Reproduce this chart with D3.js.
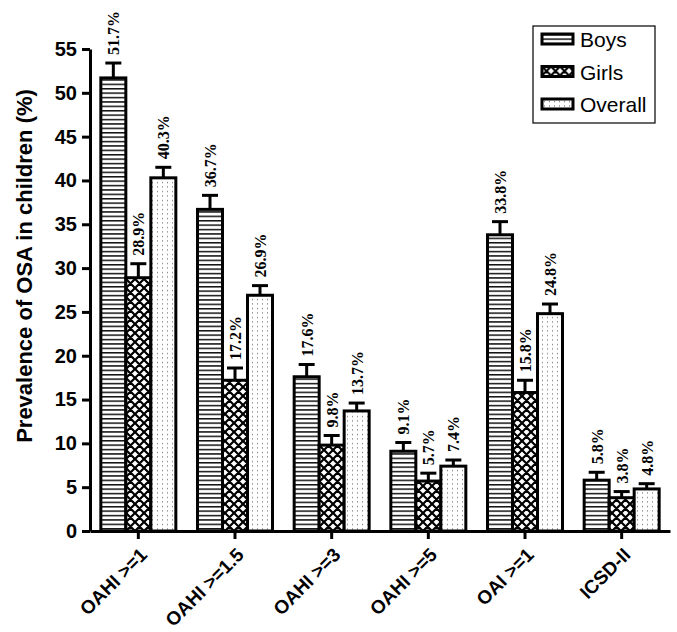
<!DOCTYPE html>
<html>
<head>
<meta charset="utf-8">
<script src="https://cdn.jsdelivr.net/npm/d3@7"></script>
<style>
  body { margin: 0; background: #fff; }
  svg { display: block; }
</style>
</head>
<body>
<div id="container"></div>
<script>
/* DATA */
const categories = ["OAHI >=1", "OAHI >=1.5", "OAHI >=3", "OAHI >=5", "OAI >=1", "ICSD-II"];
const seriesNames = ["Boys", "Girls", "Overall"];
const boys = [51.7, 36.7, 17.6, 9.1, 33.8, 5.8];
const girls = [28.9, 17.2, 9.8, 5.7, 15.8, 3.8];
const overall = [40.3, 26.9, 13.7, 7.4, 24.8, 4.8];
const boysErr = [1.7, 1.6, 1.4, 1.0, 1.5, 0.9];
const girlsErr = [1.6, 1.4, 1.1, 0.9, 1.4, 0.7];
const overallErr = [1.2, 1.1, 0.9, 0.7, 1.1, 0.6];
const yTicks = [0, 5, 10, 15, 20, 25, 30, 35, 40, 45, 50, 55];

/* CONSTANTS */
const width = 677, height = 632;
const margin = { top: 49, left: 90, right: 7, bottom: 101 };
const sans = "'Liberation Sans', Arial, sans-serif";

const svg = d3.select("#container")
  .append("svg")
  .attr("width", width)
  .attr("height", height);

// PATTERNS
const defs = svg.append("defs");

const pBoys = defs.append("pattern")
  .attr("id", "pat-Boys")
  .attr("patternUnits", "userSpaceOnUse")
  .attr("width", 8).attr("height", 4.4);
pBoys.append("rect").attr("width", 8).attr("height", 4.4).attr("fill", "#fff");
pBoys.append("rect").attr("y", 0).attr("width", 8).attr("height", 1.5).attr("fill", "#111");

const pGirls = defs.append("pattern")
  .attr("id", "pat-Girls")
  .attr("patternUnits", "userSpaceOnUse")
  .attr("width", 9).attr("height", 9);
pGirls.append("rect").attr("width", 9).attr("height", 9).attr("fill", "#fff");
pGirls.append("path")
  .attr("d", "M0,0 L9,9 M9,0 L0,9 M-1,8 L1,10 M8,-1 L10,1 M-1,1 L1,-1 M8,10 L10,8")
  .attr("stroke", "#000")
  .attr("stroke-width", 2.2);

const pOverall = defs.append("pattern")
  .attr("id", "pat-Overall")
  .attr("patternUnits", "userSpaceOnUse")
  .attr("width", 5).attr("height", 4.5);
pOverall.append("rect").attr("width", 5).attr("height", 4.5).attr("fill", "#fff");
pOverall.append("rect").attr("x", 2).attr("y", 2).attr("width", 1).attr("height", 1).attr("fill", "#555");

// SCALES
const x = d3.scaleBand()
  .domain(categories)
  .range([margin.left, width - margin.right])
  .padding(0);

const y = d3.scaleLinear()
  .domain([0, 55])
  .range([height - margin.bottom, margin.top]);

const groupWidth = 75;
const xInner = d3.scaleBand()
  .domain(seriesNames)
  .range([0, groupWidth])
  .padding(0);

const seriesData = [
  { name: "Boys", values: boys, errs: boysErr },
  { name: "Girls", values: girls, errs: girlsErr },
  { name: "Overall", values: overall, errs: overallErr }
];

const rows = [];
seriesData.forEach(s => {
  s.values.forEach((v, i) => {
    rows.push({ series: s.name, cat: categories[i], value: v, err: s.errs[i] });
  });
});

const barX = d => x(d.cat) + x.bandwidth() / 2 - groupWidth / 2 + xInner(d.series);
const barMid = d => barX(d) + xInner.bandwidth() / 2;

// ERROR BARS
const errG = svg.append("g").attr("class", "errors");
errG.selectAll("line.err")
  .data(rows)
  .join("line")
  .attr("class", "err")
  .attr("x1", barMid)
  .attr("x2", barMid)
  .attr("y1", d => y(d.value))
  .attr("y2", d => y(d.value + d.err))
  .attr("stroke", "#000")
  .attr("stroke-width", 3);
errG.selectAll("line.cap")
  .data(rows)
  .join("line")
  .attr("class", "cap")
  .attr("x1", d => barMid(d) - 8)
  .attr("x2", d => barMid(d) + 8)
  .attr("y1", d => y(d.value + d.err))
  .attr("y2", d => y(d.value + d.err))
  .attr("stroke", "#000")
  .attr("stroke-width", 3);

// BARS
svg.append("g").attr("class", "bars")
  .selectAll("rect")
  .data(rows)
  .join("rect")
  .attr("x", d => barX(d))
  .attr("y", d => y(d.value))
  .attr("width", xInner.bandwidth())
  .attr("height", d => y(0) - y(d.value))
  .attr("fill", d => `url(#pat-${d.series})`)
  .attr("stroke", "#000")
  .attr("stroke-width", 3);

// VALUE LABELS
svg.append("g").attr("class", "labels")
  .selectAll("text")
  .data(rows)
  .join("text")
  .attr("transform", d => `translate(${barMid(d) + 6}, ${y(d.value + d.err) - 8}) rotate(-90)`)
  .attr("text-anchor", "start")
  .style("font-family", "'Liberation Serif', 'DejaVu Serif', serif")
  .style("font-weight", "bold")
  .style("font-size", "16px")
  .text(d => d.value.toFixed(1) + "%");

// AXES
const yAxis = svg.append("g")
  .attr("transform", `translate(${margin.left}, 0)`)
  .call(d3.axisLeft(y).tickValues(yTicks).tickSize(8).tickSizeOuter(0));
yAxis.select(".domain").attr("stroke-width", 3);
yAxis.selectAll(".tick line").attr("stroke-width", 3);
yAxis.selectAll(".tick text")
  .attr("x", -13)
  .style("font-family", sans)
  .style("font-weight", "bold")
  .style("font-size", "20px")
  .attr("fill", "#000");

const xAxis = svg.append("g")
  .attr("transform", `translate(0, ${y(0)})`)
  .call(d3.axisBottom(x).tickSize(8).tickSizeOuter(0));
xAxis.select(".domain").attr("stroke-width", 3);
xAxis.selectAll(".tick line").attr("stroke-width", 3);
xAxis.selectAll(".tick text")
  .attr("text-anchor", "end")
  .attr("dy", null)
  .attr("y", 0)
  .attr("transform", "translate(10, 25) rotate(-45)")
  .style("font-family", sans)
  .style("font-weight", "bold")
  .style("font-size", "19px")
  .attr("fill", "#000");

// Y TITLE
svg.append("text")
  .attr("transform", "translate(32, 266) rotate(-90)")
  .attr("text-anchor", "middle")
  .style("font-family", sans)
  .style("font-weight", "bold")
  .style("font-size", "22px")
  .text("Prevalence of OSA in children (%)");

// LEGEND
const legend = svg.append("g")
  .attr("class", "legend")
  .attr("transform", "translate(533, 26)");
legend.append("rect")
  .attr("width", 122).attr("height", 97)
  .attr("fill", "#fff")
  .attr("stroke", "#000")
  .attr("stroke-width", 1.2);
const legendItems = legend.selectAll(".legend-item")
  .data(seriesNames)
  .join("g")
  .attr("class", "legend-item")
  .attr("transform", (d, i) => `translate(9, ${8 + i * 32.5})`);
legendItems.append("rect")
  .attr("width", 31).attr("height", 10)
  .attr("fill", d => `url(#pat-${d})`)
  .attr("stroke", "#000")
  .attr("stroke-width", 3);
legendItems.append("text")
  .attr("x", 38).attr("y", 13)
  .style("font-family", sans)
  .style("font-size", "21px")
  .text(d => d);
</script>
</body>
</html>
